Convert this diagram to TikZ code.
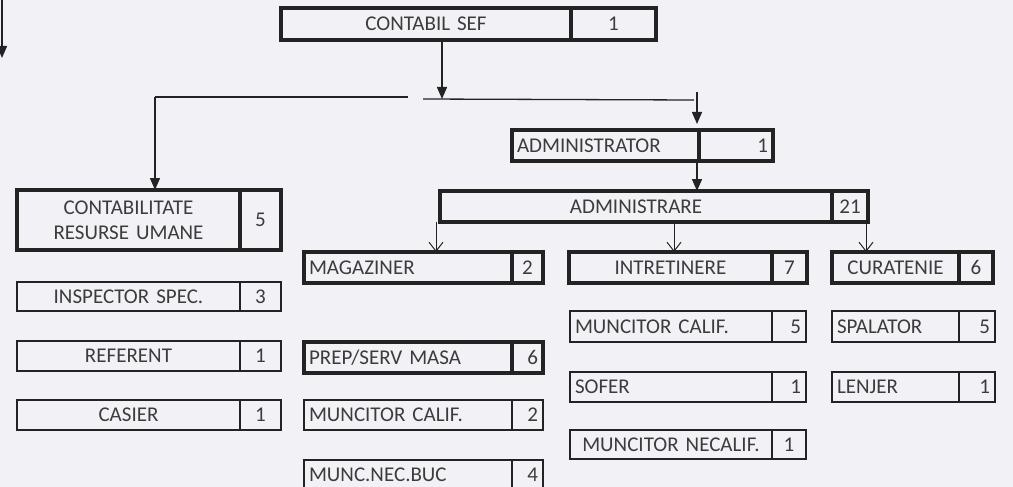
\documentclass[tikz,border=0pt]{standalone}
\usepackage{fontspec}
\setmainfont{Carlito}
\usetikzlibrary{positioning, arrows.meta}
\definecolor{paper}{RGB}{242,242,246}
\definecolor{ink}{RGB}{35,35,35}
\definecolor{txt}{RGB}{60,60,60}
\newcommand{\boxfont}{\fontsize{21}{25}\selectfont}

\begin{document}
\begin{tikzpicture}[
    x=1pt, y=-1pt,
    cell/.style={draw=ink, rectangle, outer sep=0pt, inner xsep=5pt, inner ysep=0pt, text=txt, font=\boxfont, anchor=north west},
    fine/.style={cell, line width=1.2pt},
    heavy/.style={cell, line width=3.2pt},
    arr/.style={-{Triangle[length=12pt, width=10pt]}, line width=1.4pt, draw=ink},
    opn/.style={-{Straight Barb[length=9pt, width=14pt]}, line width=1pt, draw=ink},
    link/.style={line width=1.3pt, draw=ink},
]
\fill[paper] (0,0) rectangle (1013,487);
\useasboundingbox (0,0) rectangle (1013,487);

% top
\node[heavy, text width=280pt, align=center, minimum height=32pt] (sef) at (281,8) {CONTABIL SEF};
\node[heavy, text width=75pt, align=center, minimum height=32pt, right=0pt of sef] (sefn) {1};

% contabilitate column
\node[heavy, text width=213pt, align=center, minimum height=60pt] (cont) at (17,190) {CONTABILITATE\\RESURSE UMANE};
\node[heavy, text width=31pt, align=center, minimum height=60pt, right=0pt of cont] (contn) {5};
\node[fine, text width=213pt, align=center, minimum height=29pt] (insp) at (17,282) {INSPECTOR SPEC.};
\node[fine, text width=31pt, align=center, minimum height=29pt, right=0pt of insp] (inspn) {3};
\node[fine, text width=213pt, align=center, minimum height=30pt] (ref) at (17,341) {REFERENT};
\node[fine, text width=31pt, align=center, minimum height=30pt, right=0pt of ref] (refn) {1};
\node[fine, text width=213pt, align=center, minimum height=30pt] (cas) at (17,400) {CASIER};
\node[fine, text width=31pt, align=center, minimum height=30pt, right=0pt of cas] (casn) {1};

% administrator
\node[heavy, text width=177pt, align=left, minimum height=31pt] (adm) at (512,130) {ADMINISTRATOR};
\node[heavy, text width=64pt, align=right, minimum height=31pt, right=0pt of adm] (admn) {1};
\node[heavy, text width=382pt, align=center, minimum height=31pt] (admre) at (440,191) {ADMINISTRARE};
\node[heavy, text width=26pt, align=center, minimum height=31pt, right=0pt of admre] (admren) {21};

% magaziner column
\node[heavy, text width=198pt, align=left, minimum height=31pt] (mag) at (304,252) {MAGAZINER};
\node[heavy, text width=21pt, align=center, minimum height=31pt, right=0pt of mag] (magn) {2};
\node[heavy, text width=198pt, align=left, minimum height=31pt] (prep) at (304,342) {PREP/SERV MASA};
\node[heavy, text width=21pt, align=right, minimum height=31pt, right=0pt of prep] (prepn) {6};
\node[fine, text width=198pt, align=left, minimum height=30pt] (mcalb) at (304,400) {MUNCITOR CALIF.};
\node[fine, text width=21pt, align=right, minimum height=30pt, right=0pt of mcalb] (mcalbn) {2};
\node[fine, text width=198pt, align=left, minimum height=30pt] (mnb) at (304,460) {MUNC.NEC.BUC};
\node[fine, text width=21pt, align=right, minimum height=30pt, right=0pt of mnb] (mnbn) {4};

% intretinere column
\node[heavy, text width=193pt, align=center, minimum height=31pt] (intr) at (569,252) {INTRETINERE};
\node[heavy, text width=25pt, align=center, minimum height=31pt, right=0pt of intr] (intrn) {7};
\node[fine, text width=192pt, align=left, minimum height=31pt] (mcalc) at (570,311) {MUNCITOR CALIF.};
\node[fine, text width=24pt, align=right, minimum height=31pt, right=0pt of mcalc] (mcalcn) {5};
\node[fine, text width=192pt, align=left, minimum height=30pt] (sof) at (570,372) {SOFER};
\node[fine, text width=24pt, align=right, minimum height=30pt, right=0pt of sof] (sofn) {1};
\node[fine, text width=192pt, align=center, minimum height=29pt] (mnec) at (570,430) {MUNCITOR NECALIF.};
\node[fine, text width=24pt, align=center, minimum height=29pt, right=0pt of mnec] (mnecn) {1};

% curatenie column
\node[heavy, text width=117pt, align=center, minimum height=31pt] (cur) at (832,252) {CURATENIE};
\node[heavy, text width=24pt, align=center, minimum height=31pt, right=0pt of cur] (curn) {6};
\node[fine, text width=117pt, align=left, minimum height=31pt] (spal) at (832,311) {SPALATOR};
\node[fine, text width=26pt, align=right, minimum height=31pt, right=0pt of spal] (spaln) {5};
\node[fine, text width=117pt, align=left, minimum height=30pt] (len) at (832,372) {LENJER};
\node[fine, text width=26pt, align=right, minimum height=30pt, right=0pt of len] (lenn) {1};

% split bar under the top box
\coordinate (jl) at (155,97);
\coordinate (gapl) at (408,97);
\coordinate (gapr) at (423,99);
\coordinate (jm) at (442,99);
\coordinate (jr) at (694,100);
\coordinate (ra) at (697,92);
\coordinate (edgetop) at (2,-4);
\coordinate (edgebot) at (2,58);
\coordinate (cm) at (436,0);
\coordinate (ci) at (674,0);
\coordinate (cc) at (866,0);

\draw[link] (jl) -- (gapl);
\draw[link] (gapr) -- (jr);
\draw[arr] (sef.south -| jm) -- (jm);
\draw[arr] (jl) -- (cont.north -| jl);
\draw[arr, shorten >=6pt] (ra) -- (adm.north -| ra);
\draw[arr] (adm.south -| ra) -- (admre.north -| ra);
\draw[arr] (edgetop) -- (edgebot);

\draw[opn] (admre.south -| cm) -- (mag.north -| cm);
\draw[opn] (admre.south -| ci) -- (intr.north -| ci);
\draw[opn] (admre.south -| cc) -- (cur.north -| cc);
\end{tikzpicture}
\end{document}
